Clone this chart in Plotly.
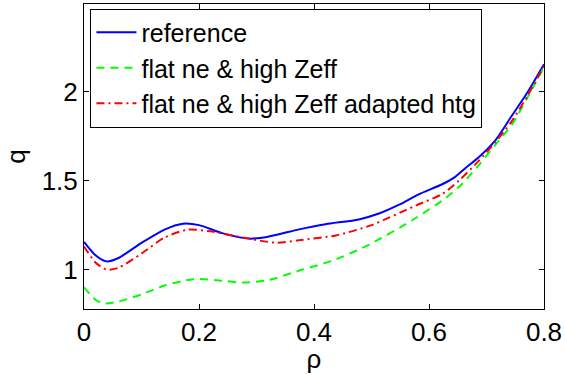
import plotly.graph_objects as go

# Safety factor profiles q(rho) for three heating scenarios
rho_ref = [0.0, 0.02, 0.039, 0.06, 0.10, 0.14, 0.172, 0.20, 0.24, 0.288, 0.32, 0.374,
           0.42, 0.478, 0.513, 0.548, 0.582, 0.623, 0.645, 0.663, 0.686, 0.715, 0.744,
           0.77, 0.80]
q_ref = [1.155, 1.08, 1.046, 1.065, 1.15, 1.225, 1.258, 1.25, 1.205, 1.174, 1.185, 1.226,
         1.255, 1.282, 1.315, 1.365, 1.423, 1.48, 1.52, 1.57, 1.63, 1.725, 1.865,
         1.99, 2.155]

rho_flat = [0.0, 0.02, 0.033, 0.06, 0.10, 0.14, 0.19, 0.23, 0.276, 0.32, 0.38, 0.432,
            0.496, 0.577, 0.628, 0.657, 0.686, 0.715, 0.744, 0.77, 0.80]
q_flat = [0.90, 0.83, 0.81, 0.82, 0.86, 0.91, 0.946, 0.94, 0.927, 0.94, 1.0, 1.05,
          1.14, 1.29, 1.40, 1.48, 1.585, 1.70, 1.815, 1.96, 2.14]

rho_adapt = [0.0, 0.02, 0.039, 0.06, 0.10, 0.14, 0.18, 0.22, 0.276, 0.334, 0.374, 0.438,
             0.50, 0.577, 0.623, 0.652, 0.686, 0.715, 0.744, 0.77, 0.80]
q_adapt = [1.13, 1.04, 1.0, 1.01, 1.09, 1.18, 1.224, 1.215, 1.18, 1.151, 1.165, 1.192,
           1.25, 1.36, 1.425, 1.50, 1.61, 1.715, 1.835, 1.97, 2.145]

names = ["reference", "flat ne & high Zeff", "flat ne & high Zeff adapted htg"]
x_ticks = [0, 0.2, 0.4, 0.6, 0.8]
x_tick_text = ["0", "0.2", "0.4", "0.6", "0.8"]
y_ticks = [1, 1.5, 2]
y_tick_text = ["1", "1.5", "2"]

FONT = "Liberation Sans, Arial, Helvetica, sans-serif"

fig = go.Figure()
fig.add_trace(go.Scatter(x=rho_ref, y=q_ref, mode="lines", name=names[0],
                         line=dict(color="#0000ff", width=2, shape="spline", smoothing=0.7)))
fig.add_trace(go.Scatter(x=rho_flat, y=q_flat, mode="lines", name=names[1],
                         line=dict(color="#00ff00", width=2, dash="8px,6px",
                                   shape="spline", smoothing=0.7)))
fig.add_trace(go.Scatter(x=rho_adapt, y=q_adapt, mode="lines", name=names[2],
                         line=dict(color="#ff0000", width=2, dash="8px,4px,2px,4px",
                                   shape="spline", smoothing=0.7)))

axis_common = dict(showline=True, linecolor="black", linewidth=1, mirror="ticks",
                   ticks="inside", ticklen=5, tickcolor="black", showgrid=False,
                   zeroline=False, tickfont=dict(family=FONT, size=26, color="black"))

fig.update_xaxes(range=[0, 0.8], tickvals=x_ticks, ticktext=x_tick_text,
                 title=dict(text="ρ", font=dict(family=FONT, size=26, color="black"), standoff=3),
                 **axis_common)
fig.update_yaxes(range=[0.778, 2.494], tickvals=y_ticks, ticktext=y_tick_text,
                 title=dict(text="q", font=dict(family=FONT, size=26, color="black"), standoff=8),
                 **axis_common)

fig.update_layout(
    width=565, height=374,
    margin=dict(l=84, r=19, t=3, b=65),
    paper_bgcolor="white", plot_bgcolor="white",
    showlegend=True,
    legend=dict(x=0.014, y=0.985, xanchor="left", yanchor="top",
                bgcolor="white", bordercolor="black", borderwidth=1,
                font=dict(family=FONT, size=25, color="black"),
                tracegroupgap=0, itemwidth=40),
)

fig.write_html("out.html")
